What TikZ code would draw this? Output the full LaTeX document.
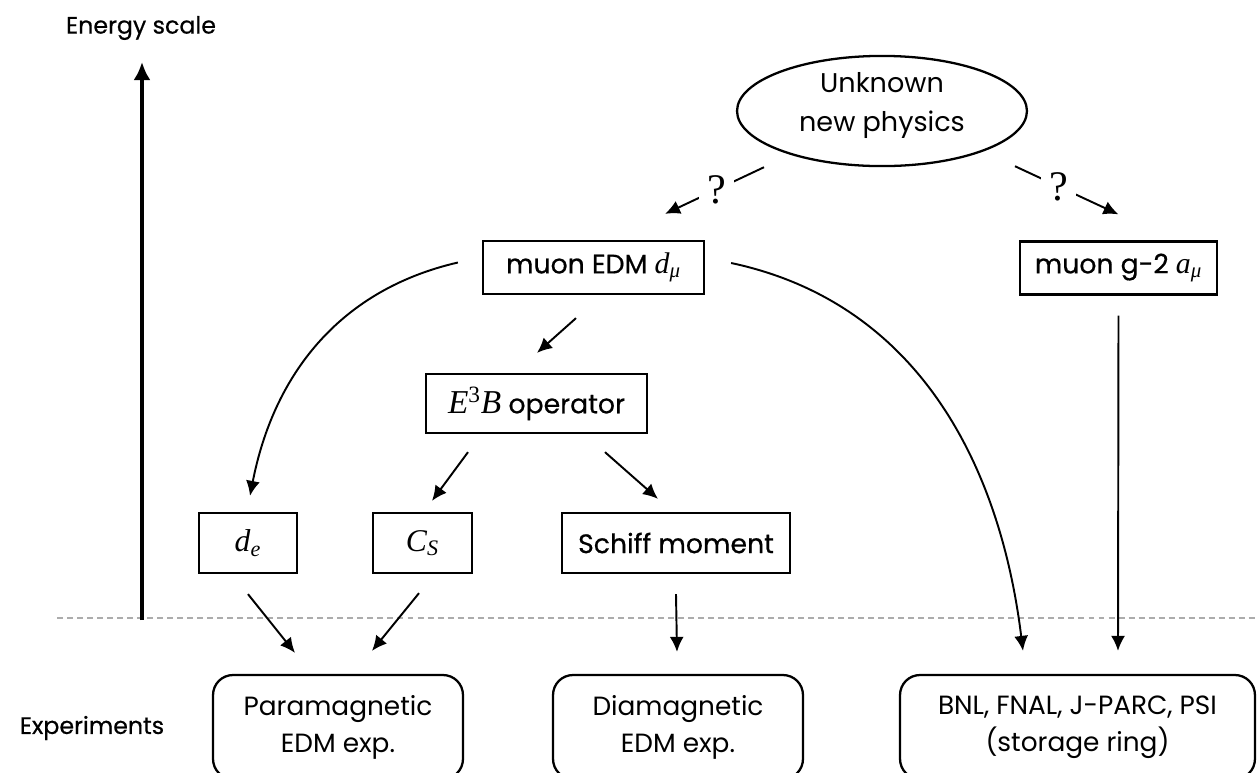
\documentclass[tikz,border=0pt]{standalone}
\usepackage{fontspec}
\setmainfont{Poppins}
\newfontfamily\medfont{Poppins}[FakeBold=0.5]
\newfontfamily\tmsfont{Liberation Serif}
\newcommand{\tvar}[2][17]{{\tmsfont\itshape\fontsize{#1}{#1}\selectfont #2}}
\usetikzlibrary{shapes.geometric,arrows.meta}

\begin{document}
\begin{tikzpicture}[
x=0.02cm,
y=-0.02cm,
box/.style={
  draw,
  rectangle,
  line width=1.3pt,
  inner sep=0pt,
  font=\medfont\fontsize{15.2}{18}\selectfont
  },
oval/.style={
  draw,
  ellipse,
  line width=1.3pt,
  inner sep=0pt,
  minimum width=5.8cm,
  minimum height=1.84cm,
  align=center,
  font=\fontsize{15.4}{22.7}\selectfont
  },
expbox/.style={
  draw,
  rectangle,
  rounded corners=0.4cm,
  line width=1.3pt,
  inner sep=0pt,
  minimum height=2.08cm,
  align=center,
  font=\fontsize{15}{21}\selectfont
  },
lab/.style={
  inner sep=0pt,
  font=\medfont\fontsize{13.5}{16}\selectfont
  },
qmark/.style={
  fill=white,
  inner sep=4.5pt,
  font=\tmsfont\fontsize{24}{24}\selectfont
  },
conn/.style={
  line width=1.1pt
  },
>={Latex[length=0.3cm,width=0.28cm]}
]
\clip (0,0) rectangle (1259,772);

% energy axis and separation line
\node[lab] (escale) at (141,28) {Energy scale};
\node[lab] (exps) at (92,728) {Experiments};
\coordinate (sbot) at (142,620);
\coordinate (stop) at (142,62);
\coordinate (sepl) at (57,618);
\coordinate (sepr) at (1259,618);
\draw[gray!65, line width=1.2pt, dash pattern=on 3.4pt off 2.3pt] (sepl) -- (sepr);
\draw[-{Latex[length=0.36cm,width=0.34cm]}, line width=2pt] (sbot) -- (stop);

% theory side
\node[oval] (unk) at (882,111) {Unknown\\new physics\rule[-0.36cm]{0pt}{0pt}};
\node[box, minimum width=4.42cm, minimum height=1.06cm] (edm) at (593.5,267.5) {muon EDM \tvar{d\textsubscript{μ}}};
\node[box, minimum width=3.94cm, minimum height=1.06cm] (g2) at (1118.5,268) {muon g-2 \tvar{a\textsubscript{μ}}};
\node[box, minimum width=4.42cm, minimum height=1.18cm] (e3b) at (536.5,403.5) {\tvar[19]{E\textsuperscript{\upshape 3}B} operator};
\node[box, minimum width=1.96cm, minimum height=1.2cm] (de) at (248,543) {\tvar[18]{d\textsubscript{e}}};
\node[box, minimum width=1.98cm, minimum height=1.2cm] (cs) at (422.5,543) {\tvar[18]{C\textsubscript{S}}};
\node[box, minimum width=4.56cm, minimum height=1.2cm] (schiff) at (676,543) {Schiff moment};

% experiments
\foreach \x/\w/\n/\t in {338/5.0cm/para/{Paramagnetic\\EDM exp.},
                         678/5.0cm/dia/{Diamagnetic\\EDM exp.},
                         1077.5/7.1cm/ring/{BNL, FNAL, J-PARC, PSI\\(storage ring)}}
  \node[expbox, minimum width=\w] (\n) at (\x,727) {\t};

\draw[conn,->] ([shift={(-118,0)}]unk.south) -- node[qmark, pos=0.48] {?} ([shift={(71.5,-26)}]edm.north);
\draw[conn,->] ([shift={(133,-1)}]unk.south) -- node[qmark, pos=0.42] {?} ([shift={(0,-26)}]g2.north);

\draw[conn,->] ([shift={(-17.5,23)}]edm.south) -- ([shift={(0.5,-20)}]e3b.north);
\draw[conn,->] ([shift={(-68.5,18)}]e3b.south) -- ([shift={(9.5,-11)}]cs.north);
\draw[conn,->] ([shift={(68.5,18)}]e3b.south) -- ([shift={(-18,-13)}]schiff.north);
\draw[conn,->] ([shift={(-24,-5)}]edm.west) to[out=193,in=79] ([shift={(2,-16)}]de.north);
\draw[conn,->] ([shift={(26,-4.5)}]edm.east) to[out=-12,in=97] ([shift={(-54.5,-23)}]ring.north);

\draw[conn,->] ([shift={(0,20)}]de.south) -- ([shift={(-43,-21)}]para.north);
\draw[conn,->] ([shift={(-3.5,19)}]cs.south) -- ([shift={(34,-23)}]para.north);
\draw[conn,->] ([shift={(0,20)}]schiff.south) -- ([shift={(-1,-22)}]dia.north);
\draw[conn,->] ([shift={(0,20)}]g2.south) -- ([shift={(40.5,-23)}]ring.north);

\end{tikzpicture}
\end{document}
